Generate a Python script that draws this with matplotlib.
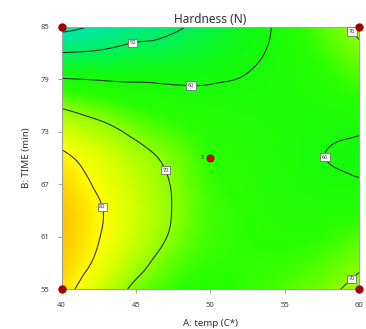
import numpy as np
import matplotlib
matplotlib.use('Agg')
import matplotlib.pyplot as plt
import matplotlib.tri as mtri
from matplotlib.colors import LinearSegmentedColormap, Normalize

plt.rcParams['font.family'] = ['Noto Sans', 'DejaVu Sans']

# Hardness (N) read on a grid: columns = temp (C*), rows = time (min)
temp = [40, 42.5, 45, 47.5, 50, 52.5, 55, 57.5, 60]
time = [55, 58, 61, 64, 67, 70, 73, 76, 79, 82, 85]

h55 = [82.5, 75.5, 68.6, 64.5, 63.5, 64.5, 66.2, 68.4, 71.8]
h58 = [85.0, 78.7, 72.1, 67.0, 64.5, 64.4, 64.8, 66.2, 69.0]
h61 = [86.0, 80.2, 74.5, 69.2, 65.3, 64.2, 63.6, 64.3, 66.2]
h64 = [85.8, 80.6, 75.2, 69.8, 65.5, 64.0, 62.8, 62.5, 63.4]
h67 = [84.3, 79.0, 74.3, 69.6, 65.0, 63.7, 62.2, 61.0, 60.6]
h70 = [81.5, 77.0, 72.5, 68.4, 64.2, 63.2, 61.8, 60.1, 58.6]
h73 = [76.0, 72.5, 68.6, 65.5, 63.3, 62.5, 61.5, 60.6, 60.3]
h76 = [69.1, 66.4, 64.0, 62.3, 61.8, 61.5, 61.3, 61.8, 63.1]
h79 = [60.3, 59.7, 59.4, 59.2, 59.5, 60.3, 61.5, 63.5, 65.9]
h82 = [50.1, 51.0, 53.2, 54.0, 56.3, 58.8, 61.6, 65.0, 68.6]
h85 = [37.5, 41.2, 45.0, 48.6, 52.8, 57.2, 61.7, 66.5, 71.4]

levels = [40, 50, 60, 70, 80]
# where the contour labels sit (temp, time)
label_pos = [(44.75, 83.2), (48.7, 78.7), (59.5, 84.4), (47.0, 68.6),
             (42.7, 64.4), (57.7, 70.1), (59.4, 56.4)]

# design points
corner_t = [40, 40, 60, 60]
corner_m = [55, 85, 55, 85]
center_t = [50]
center_m = [70]
center_n = '3'

xticks = [40, 45, 50, 55, 60]
yticks = [55, 61, 67, 73, 79, 85]

H = np.array([h55, h58, h61, h64, h67, h70, h73, h76, h79, h82, h85])
X, Y = np.meshgrid(temp, time)
tri = mtri.Triangulation(X.ravel(), Y.ravel())
interp = mtri.CubicTriInterpolator(tri, H.ravel(), kind='geom')
refiner = mtri.UniformTriRefiner(tri)
tri_f, z_f = refiner.refine_field(H.ravel(), interp, subdiv=4)

# colour ramp by hardness value
vmin, vmax = 35, 90
stops = [(35, '#00dcb8'), (42, '#00e8a0'), (50, '#00f060'), (58, '#10fa10'),
         (64, '#28ff00'), (70, '#90ff00'), (76, '#d8ff00'), (80, '#ffff00'),
         (84, '#ffd800'), (90, '#ffa000')]
cmap = LinearSegmentedColormap.from_list(
    'hard', [((v - vmin) / (vmax - vmin), c) for v, c in stops])
norm = Normalize(vmin, vmax)

fig = plt.figure(figsize=(3.66, 3.29), dpi=100)
ax = fig.add_axes([0.1686, 0.1207, 0.8123, 0.7982])

ax.tripcolor(tri_f, z_f, shading='gouraud', cmap=cmap, norm=norm)
cs = ax.tricontour(tri_f, z_f, levels=levels, colors='#1a1a1a', linewidths=0.7)
lbls = ax.clabel(cs, fmt='%d', fontsize=4, inline=True, inline_spacing=1,
                 manual=label_pos)
for t in lbls:
    t.set_rotation(0)
    t.set_color('#303030')
    t.set_bbox(dict(boxstyle='square,pad=0.3', fc='white', ec='#707070', lw=0.6))

ax.plot(corner_t, corner_m, 'o', color='#a00000', ms=5, clip_on=False, zorder=5)
ax.plot(center_t, center_m, 'o', color='#e00000', mec='#600000', mew=0.6, ms=5,
        zorder=5)
ax.text(center_t[0] - 0.45, center_m[0], center_n, fontsize=3.5, ha='right',
        va='center', color='#202020')

ax.set_xlim(40, 60)
ax.set_ylim(55, 85)
ax.set_xticks(xticks)
ax.set_yticks(yticks)
ax.tick_params(labelsize=5.5, length=3, width=0.6, color='#909090',
               labelcolor='#404040', pad=6)
for s in ax.spines.values():
    s.set_color('#a0a0a0')
    s.set_linewidth(0.8)

ax.set_title('Hardness (N)', fontsize=8.5, color='#303030', pad=3)
ax.set_xlabel('A: temp (C*)', fontsize=7, color='#303030', labelpad=7)
ax.set_ylabel('B: TIME (min)', fontsize=7, color='#303030', labelpad=7)

fig.savefig('out.png', dpi=100)
